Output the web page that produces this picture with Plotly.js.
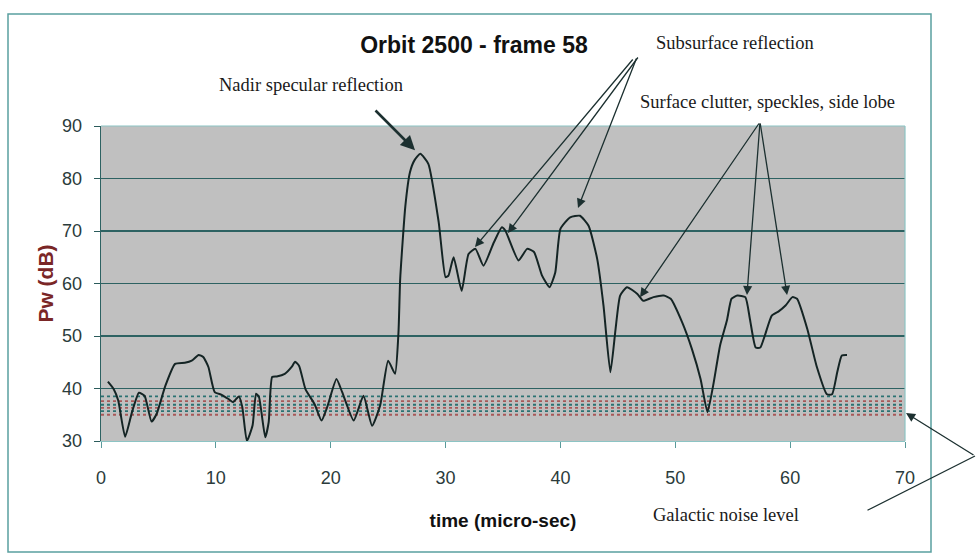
<!DOCTYPE html>
<html>
<head>
<meta charset="utf-8">
<script src="https://cdn.plot.ly/plotly-3.0.1.min.js"></script>
<style>html,body{margin:0;padding:0;background:#fff;}#chart{width:977px;height:560px;}</style>
</head>
<body>
<div id="chart"></div>
<script>
// ---- data ----
const time = [0.6,1.1,1.5,2.1,2.7,3.3,3.8,4.4,4.85,5.6,6.45,7.3,7.9,8.5,8.9,9.35,9.9,10.5,11.1,11.5,12.0,12.3,12.7,13.2,13.5,13.75,14.3,14.6,14.9,15.3,16.0,16.6,16.9,17.25,17.8,18.6,19.2,19.7,20.5,21.0,22.0,22.85,23.6,24.3,25.0,25.6,25.9,26.05,26.5,26.9,27.3,27.8,28.5,29.4,30.0,30.25,30.7,31.4,32.0,32.6,33.3,34.2,34.9,35.2,36.35,37.1,37.7,38.4,39.05,39.55,40.0,40.85,41.7,42.45,43.2,43.75,44.35,44.8,45.2,45.8,46.7,47.2,48.1,49.0,49.6,50.6,51.45,52.2,52.8,53.3,53.9,54.5,54.9,55.4,56.1,56.5,57.0,57.4,57.8,58.4,59.0,59.6,60.2,60.6,61.5,62.3,63.2,63.65,64.1,64.5,64.95];
const pw = [41.3,39.9,37.7,30.8,35.5,39.2,38.6,33.7,35.2,40.5,44.7,44.9,45.3,46.4,46.0,44.1,39.3,38.8,38.0,37.4,38.5,36.5,30.0,33.0,39.0,38.4,30.7,33.6,42.2,42.3,42.8,44.1,45.1,44.3,39.9,37.0,33.9,36.5,41.8,39.3,33.9,38.6,32.9,36.7,45.3,42.8,50.7,60.9,74.8,81.2,83.5,84.7,82.8,71.7,61.2,61.5,65.0,58.6,65.6,66.6,63.4,67.8,70.7,70.1,64.4,66.6,66.0,61.5,59.3,62.1,70.4,72.6,72.9,71.0,64.7,55.8,43.1,51.3,57.7,59.3,58.0,56.7,57.4,57.7,57.1,52.6,47.5,41.8,35.5,40.6,48.2,53.0,57.1,57.7,57.4,53.2,47.8,47.8,50.1,53.9,54.7,55.8,57.4,57.1,51.3,44.3,38.9,38.9,43.1,46.3,46.4];
const noiseLevels = [38.5, 37.6, 36.9, 36.3, 35.7, 35.0];
const noiseSpan = [0, 70];
const xTicks = [0,10,20,30,40,50,60,70];
const yTicks = [30,40,50,60,70,80,90];
// annotated features: [time, Pw] of arrow tips
const subsurfaceTips = [[32.56,66.95],[35.43,69.6],[41.53,74.4]];
const clutterTips = [[46.93,57.4],[56.24,57.8],[59.73,57.8]];
const nadirTip = [27.34,85.4];

const traces = [];
noiseLevels.forEach((lv, i) => {
  traces.push({
    x: noiseSpan, y: [lv, lv], mode: 'lines', hoverinfo: 'skip', showlegend: false,
    line: {color: i % 2 ? '#a85858' : '#2a7272', width: 1.8, dash: 'dot'}
  });
});
traces.push({
  x: time, y: pw, mode: 'lines', showlegend: false,
  line: {color: '#142424', width: 2, shape: 'spline', smoothing: 0.5}
});

// layout geometry (plot area 101..905 x 126..441)
const L = 101, R = 905, T = 126, B = 441, W = 977, H = 560;
const px = v => (v - L) / (R - L);
const py = v => (B - v) / (B - T);

const arrowCol = '#1c3030';
const anns = [];
function dataArrow(tip, tail, width, size) {
  const tx = L + tip[0] / 70 * (R - L);
  const ty = T + (90 - tip[1]) / 60 * (B - T);
  anns.push({x: tip[0], y: tip[1], xref: 'x', yref: 'y', text: '', showarrow: true,
    ax: tail[0] - tx, ay: tail[1] - ty, arrowhead: 2, arrowsize: size || 1.4,
    arrowwidth: width || 1.3, arrowcolor: arrowCol});
}
dataArrow(nadirTip, [374, 109], 2.6, 1.1);
dataArrow(subsurfaceTips[0], [634, 58]);
dataArrow(subsurfaceTips[1], [639, 56]);
dataArrow(subsurfaceTips[2], [637, 57]);
clutterTips.forEach(t => dataArrow(t, [760, 122]));

// galactic noise arrow (outside plot area)
anns.push({x: px(906), y: py(413), xref: 'paper', yref: 'paper', text: '', showarrow: true,
  ax: 975 - 906, ay: 456 - 413, arrowhead: 2, arrowsize: 1.4, arrowwidth: 1.3, arrowcolor: arrowCol});
anns.push({x: px(975), y: py(456), xref: 'paper', yref: 'paper', text: '', showarrow: true,
  ax: 866 - 975, ay: 511 - 456, arrowhead: 0, arrowwidth: 1.3, arrowcolor: arrowCol});

const serif = {family: 'Liberation Serif, Times New Roman, serif', size: 18, color: '#1a1a1a'};
function label(text, cx, cy, size) {
  anns.push({x: px(cx), y: py(cy), xref: 'paper', yref: 'paper', text: text, showarrow: false,
    xanchor: 'center', yanchor: 'middle', font: Object.assign({}, serif, {size: size})});
}
label('Nadir specular reflection', 311, 85, 18.5);
label('Subsurface reflection', 735, 43, 18.5);
label('Surface clutter, speckles, side lobe', 767, 102, 18.5);
label('Galactic noise level', 726, 515, 18.5);

const shapes = [
  {type: 'rect', xref: 'paper', yref: 'paper', x0: px(8), x1: px(931), y0: py(552), y1: py(14),
   line: {color: '#5aa0a0', width: 1.5}, fillcolor: 'rgba(0,0,0,0)', layer: 'below'},
  {type: 'line', xref: 'paper', yref: 'paper', x0: 1, x1: 1, y0: 0, y1: 1, line: {color: '#8cc4c4', width: 1.2}},
  {type: 'line', xref: 'paper', yref: 'paper', x0: 0, x1: 1, y0: 1, y1: 1, line: {color: '#8cc4c4', width: 1.2}}
];

const sans = 'Liberation Sans, Arial, sans-serif';
const tickFont = {family: sans, size: 18, color: '#2b3b3b'};

const layout = {
  width: W, height: H,
  margin: {l: L, r: W - R, t: T, b: H - B, pad: 0},
  paper_bgcolor: '#ffffff', plot_bgcolor: '#c0c0c0',
  title: {text: 'Orbit 2500 - frame 58', x: 474 / W, xanchor: 'center', y: 1 - 45 / H, yanchor: 'middle',
    font: {family: sans, size: 23, color: '#111', weight: 'bold'}},
  xaxis: {range: [0, 70], tickvals: xTicks, ticktext: xTicks.map(String), ticks: 'outside', ticklen: 6,
    tickcolor: '#5a9a9a', showgrid: false, zeroline: false, showline: true, linecolor: '#8cc4c4', linewidth: 1.2,
    tickfont: tickFont, ticklabelstandoff: 14, fixedrange: true,
    title: {text: 'time (micro-sec)', standoff: 27,
      font: {family: sans, size: 19, color: '#111', weight: 'bold'}}},
  yaxis: {range: [30, 90], tickvals: yTicks, ticktext: yTicks.map(String), ticks: 'outside', ticklen: 6,
    tickcolor: '#2b5b5b', showgrid: true, gridcolor: '#2d6262', gridwidth: 1.4, zeroline: false,
    showline: true, linecolor: '#2d6262', linewidth: 1.4, tickfont: tickFont, ticklabelstandoff: 8, fixedrange: true,
    title: {text: 'Pw (dB)', standoff: 2,
      font: {family: sans, size: 21, color: '#7a2626', weight: 'bold'}}},
  annotations: anns,
  shapes: shapes,
  showlegend: false
};

Plotly.newPlot('chart', traces, layout, {staticPlot: true, displayModeBar: false});
</script>
</body>
</html>
